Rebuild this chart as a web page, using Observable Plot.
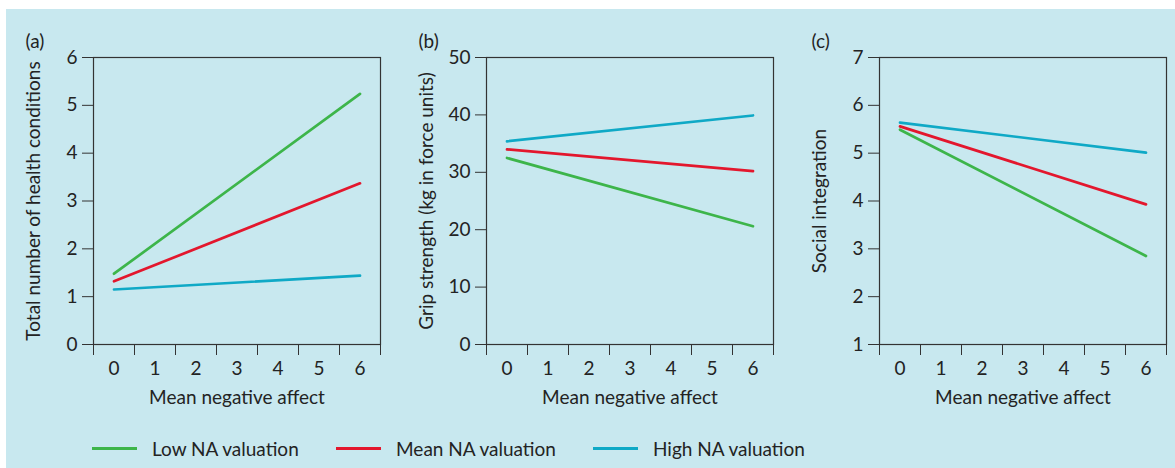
<!DOCTYPE html>
<html><head><meta charset="utf-8">
<script src="https://cdn.jsdelivr.net/npm/d3@7"></script>
<script src="https://cdn.jsdelivr.net/npm/@observablehq/plot@0.6"></script>
<style>
body{margin:0;background:#fff;font-family:Lato,sans-serif;}
#root{position:relative;width:1175px;height:468px;overflow:hidden;background:#fff}
#bg{position:absolute;left:6px;top:9px;right:0;bottom:0;background:#c8e8ef}
.panel{position:absolute;top:0}
.item{position:absolute;top:436px;display:flex;align-items:center;font-size:19px;color:#232323;white-space:nowrap;height:24px}
.sw{width:45px;height:3px;margin-right:15px}
</style></head><body><div id="root"><div id="bg"></div></div>
<script>
const series = ["Low NA valuation", "Mean NA valuation", "High NA valuation"];
const colors = ["#3db54a", "#e3172d", "#0fa9c6"];
const panelLabels = ["(a)", "(b)", "(c)"];
const yTitles = ["Total number of health conditions", "Grip strength (kg in force units)", "Social integration"];
const xTitle = "Mean negative affect";
const affect = [0, 6];
const xTicks = [0, 1, 2, 3, 4, 5, 6];
const healthLow = [1.48, 5.24], healthMean = [1.32, 3.37], healthHigh = [1.15, 1.44];
const gripLow = [32.5, 20.6], gripMean = [34.0, 30.2], gripHigh = [35.4, 39.9];
const socialLow = [5.49, 2.85], socialMean = [5.56, 3.93], socialHigh = [5.64, 5.01];
const yTicksHealth = [0, 1, 2, 3, 4, 5, 6];
const yTicksGrip = [0, 10, 20, 30, 40, 50];
const yTicksSocial = [1, 2, 3, 4, 5, 6, 7];

const root = document.getElementById("root");
const ink = "#232323";

function panel(i, yTicks, values, left) {
  const rows = [];
  values.forEach((vals, s) => affect.forEach((a, j) => rows.push({series: series[s], x: a, y: vals[j]})));
  const tickMarks = [xTicks[0] - 0.5, ...xTicks.map(d => d + 0.5)];
  const p = Plot.plot({
    width: 390, height: 420,
    marginLeft: 93, marginRight: 10, marginTop: 57, marginBottom: 76,
    style: {background: "transparent", fontFamily: "Lato, sans-serif", fontSize: "19px", color: ink, overflow: "visible"},
    x: {domain: [xTicks[0] - 0.5, xTicks[xTicks.length - 1] + 0.5]},
    y: {domain: [yTicks[0], yTicks[yTicks.length - 1]]},
    color: {domain: series, range: colors},
    marks: [
      Plot.frame({stroke: "#333", strokeWidth: 1.2}),
      Plot.axisY(yTicks, {tickSize: 11, tickPadding: 5, stroke: "#333", label: yTitles[i], labelAnchor: "center", labelArrow: "none", labelOffset: 67}),
      Plot.axisX(tickMarks, {tickSize: 11, tickFormat: () => "", label: null, stroke: "#333"}),
      Plot.axisX(xTicks, {tickSize: 0, tickPadding: 17, label: xTitle, labelAnchor: "center", labelArrow: "none", labelOffset: 59}),
      Plot.line(rows, {x: "x", y: "y", z: "series", stroke: "series", strokeWidth: 2.7}),
      Plot.text([panelLabels[i]], {frameAnchor: "top-left", dx: -68, dy: -23, text: d => d, textAnchor: "start", fill: ink})
    ]
  });
  p.classList.add("panel");
  p.style.position = "absolute";
  p.style.left = left + "px";
  p.style.top = "0px";
  root.appendChild(p);
}

panel(0, yTicksHealth, [healthLow, healthMean, healthHigh], 0);
panel(1, yTicksGrip, [gripLow, gripMean, gripHigh], 393);
panel(2, yTicksSocial, [socialLow, socialMean, socialHigh], 786);

const legendLefts = [92, 336, 593];
series.forEach((s, k) => {
  const it = document.createElement("div");
  it.className = "item";
  it.style.left = legendLefts[k] + "px";
  const sw = document.createElement("span");
  sw.className = "sw";
  sw.style.background = colors[k];
  const t = document.createElement("span");
  t.textContent = s;
  it.appendChild(sw); it.appendChild(t);
  root.appendChild(it);
});
</script></body></html>
